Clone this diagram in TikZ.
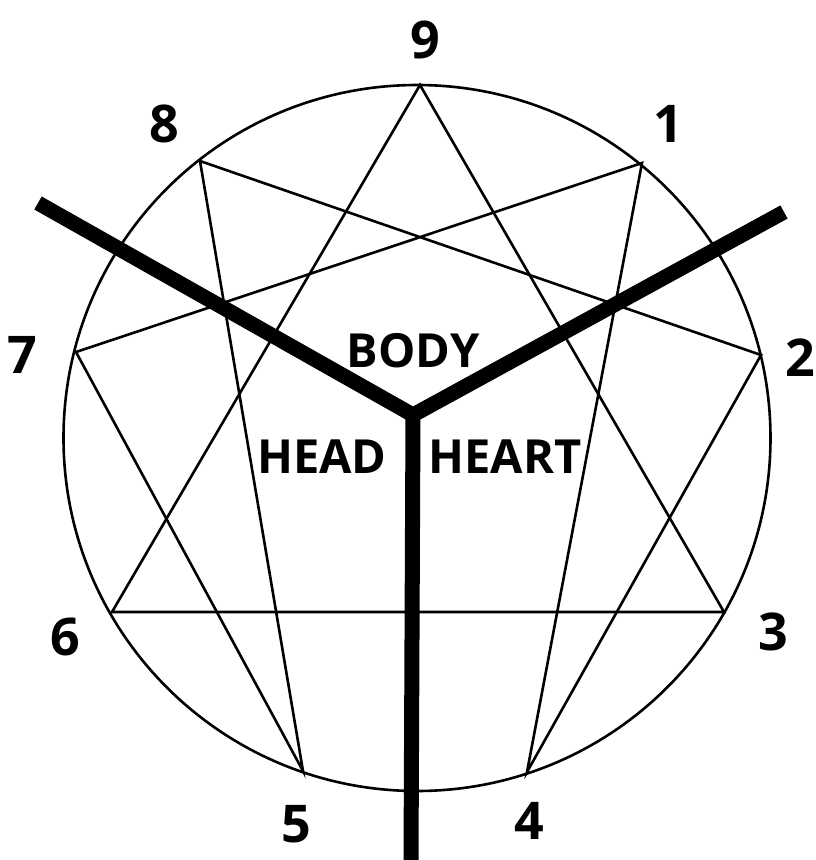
\documentclass[tikz,border=0pt]{standalone}
\usepackage{fontspec}
\setmainfont{Open Sans}
\begin{document}
\begin{tikzpicture}[x=1pt,y=-1pt,
  thin line/.style={line width=2.6pt,line join=miter},
  thick bar/.style={line width=15pt,line cap=butt,line join=miter},
  num/.style={font=\fontsize{52}{52}\selectfont\bfseries,inner sep=0pt},
  word/.style={font=\fontsize{47}{47}\selectfont\bfseries,inner sep=0pt}]
\useasboundingbox (0,0) rectangle (815,860);
% circle
\draw[thin line] (417,438) ellipse [x radius=353.5, y radius=353];
% points
\coordinate (p9) at (420,85);
\coordinate (p1) at (642,163);
\coordinate (p2) at (761,355);
\coordinate (p3) at (724,612);
\coordinate (p4) at (527,772);
\coordinate (p5) at (303,771);
\coordinate (p6) at (112,612);
\coordinate (p7) at (76,352);
\coordinate (p8) at (200,161);
% triangle
\draw[thin line] (p9) -- (p3) -- (p6) -- cycle;
% hexad
\draw[thin line] (p1) -- (p4) -- (p2) -- (p8) -- (p5) -- (p7) -- cycle;
% thick Y
\coordinate (yc) at (413,415);
\coordinate (yl) at (38,203);
\coordinate (yr) at (784,212);
\coordinate (yb) at (411,862);
\draw[thick bar] (yl) -- (yc) -- (yr);
\draw[thick bar] (yc) -- (yb);
% numbers
\node[num] (n9) at (425,40) {9};
\node[num] (n1) at (668,124) {1};
\node[num] (n8) at (164,124) {8};
\node[num] (n7) at (22,355) {7};
\node[num] (n2) at (800,358) {2};
\node[num] (n6) at (65,637) {6};
\node[num] (n3) at (773,632) {3};
\node[num] (n5) at (296,824) {5};
\node[num] (n4) at (529,821) {4};
% words
\node[word] (body) at (413,351) {BODY};
\node[word] (head) at (322,457) {HEAD};
\node[word] (heart) at (505,457) {HEART};
\end{tikzpicture}
\end{document}
